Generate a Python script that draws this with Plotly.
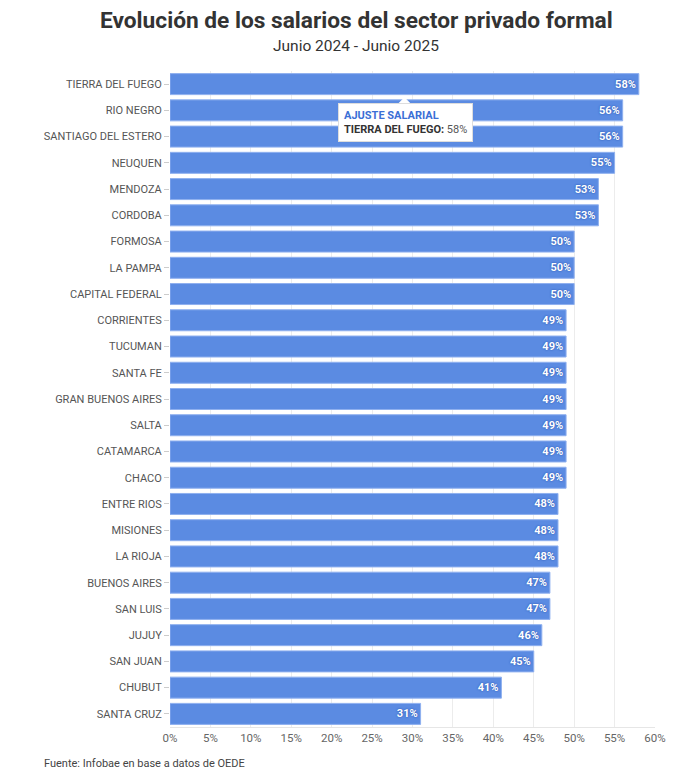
import plotly.graph_objects as go

provincias = ["TIERRA DEL FUEGO", "RIO NEGRO", "SANTIAGO DEL ESTERO", "NEUQUEN", "MENDOZA",
              "CORDOBA", "FORMOSA", "LA PAMPA", "CAPITAL FEDERAL", "CORRIENTES", "TUCUMAN",
              "SANTA FE", "GRAN BUENOS AIRES", "SALTA", "CATAMARCA", "CHACO", "ENTRE RIOS",
              "MISIONES", "LA RIOJA", "BUENOS AIRES", "SAN LUIS", "JUJUY", "SAN JUAN",
              "CHUBUT", "SANTA CRUZ"]
ajuste = [58, 56, 56, 55, 53, 53, 50, 50, 50, 49, 49, 49, 49, 49, 49, 49, 48, 48, 48,
          47, 47, 46, 45, 41, 31]
x_ticks = list(range(0, 61, 5))
x_tick_labels = [f"{v}%" for v in x_ticks]

FONT = "Roboto"
BAR = "#5b8be2"

fig = go.Figure(go.Bar(
    x=ajuste, y=provincias, orientation="h",
    marker=dict(color=BAR, line=dict(color="#8fb0ef", width=1)),
    text=[f"{v}%" for v in ajuste], textposition="inside", insidetextanchor="end",
    textfont=dict(family=FONT, size=11, color="white", weight="bold", shadow="0px 0px 2px #1f4aa8"),
    cliponaxis=False, hoverinfo="skip",
))

# page body has an 8px margin, so the figure is drawn 16px smaller
fig.update_layout(
    width=672, height=767,
    margin=dict(l=162, r=25, t=63, b=48),
    paper_bgcolor="white", plot_bgcolor="white",
    bargap=0.2, showlegend=False,
    font=dict(family=FONT, color="#444"),
    xaxis=dict(range=[0, 60], tickvals=x_ticks, ticktext=x_tick_labels,
               showgrid=True, gridcolor="#ececec", gridwidth=1, zeroline=False,
               showline=True, linecolor="#e6e6e6", ticks="",
               tickfont=dict(family=FONT, size=11.5, color="#666")),
    yaxis=dict(autorange="reversed", ticks="outside", ticklen=5, tickcolor="#cccccc",
               showline=False, showgrid=False,
               tickfont=dict(family=FONT, size=11, color="#555")),
)

TITLE_X = (348 - 162) / 485  # title centre in paper units
fig.add_annotation(xref="paper", yref="paper", x=TITLE_X,
                   y=1.0777, xanchor="center", yanchor="middle", showarrow=False,
                   text="<b>Evolución de los salarios del sector privado formal</b>",
                   font=dict(family=FONT, size=22.7, color="#333"))
fig.add_annotation(xref="paper", yref="paper", x=TITLE_X,
                   y=1.038, xanchor="center", yanchor="middle", showarrow=False,
                   text="Junio 2024 - Junio 2025",
                   font=dict(family=FONT, size=15.5, color="#333"))

# persistent tooltip
fig.add_shape(type="path", xref="x", yref="paper", xsizemode="pixel", ysizemode="pixel",
              xanchor=29, yanchor=0.951, path="M -6 0 L 0 6 L 6 0 Z",
              fillcolor="white", line=dict(width=0), layer="above")
fig.add_annotation(
    xref="x", yref="paper", x=29.1, y=0.951, xanchor="center", yanchor="top",
    showarrow=False, align="left", bgcolor="white", bordercolor="#dddddd", borderwidth=1,
    borderpad=5,
    text="<b style='color:#3b6fd6'>AJUSTE SALARIAL</b><br>"
         "<b style='color:#333'>TIERRA DEL FUEGO:</b> <span style='color:#555'>58%</span>",
    font=dict(family=FONT, size=11, color="#333"),
)

fig.add_annotation(xref="paper", yref="paper", x=-0.264, y=-0.0564, xanchor="left", yanchor="middle",
                   showarrow=False, text="Fuente: Infobae en base a datos de OEDE",
                   font=dict(family=FONT, size=11, color="#444"))

fig.write_html("out.html")
